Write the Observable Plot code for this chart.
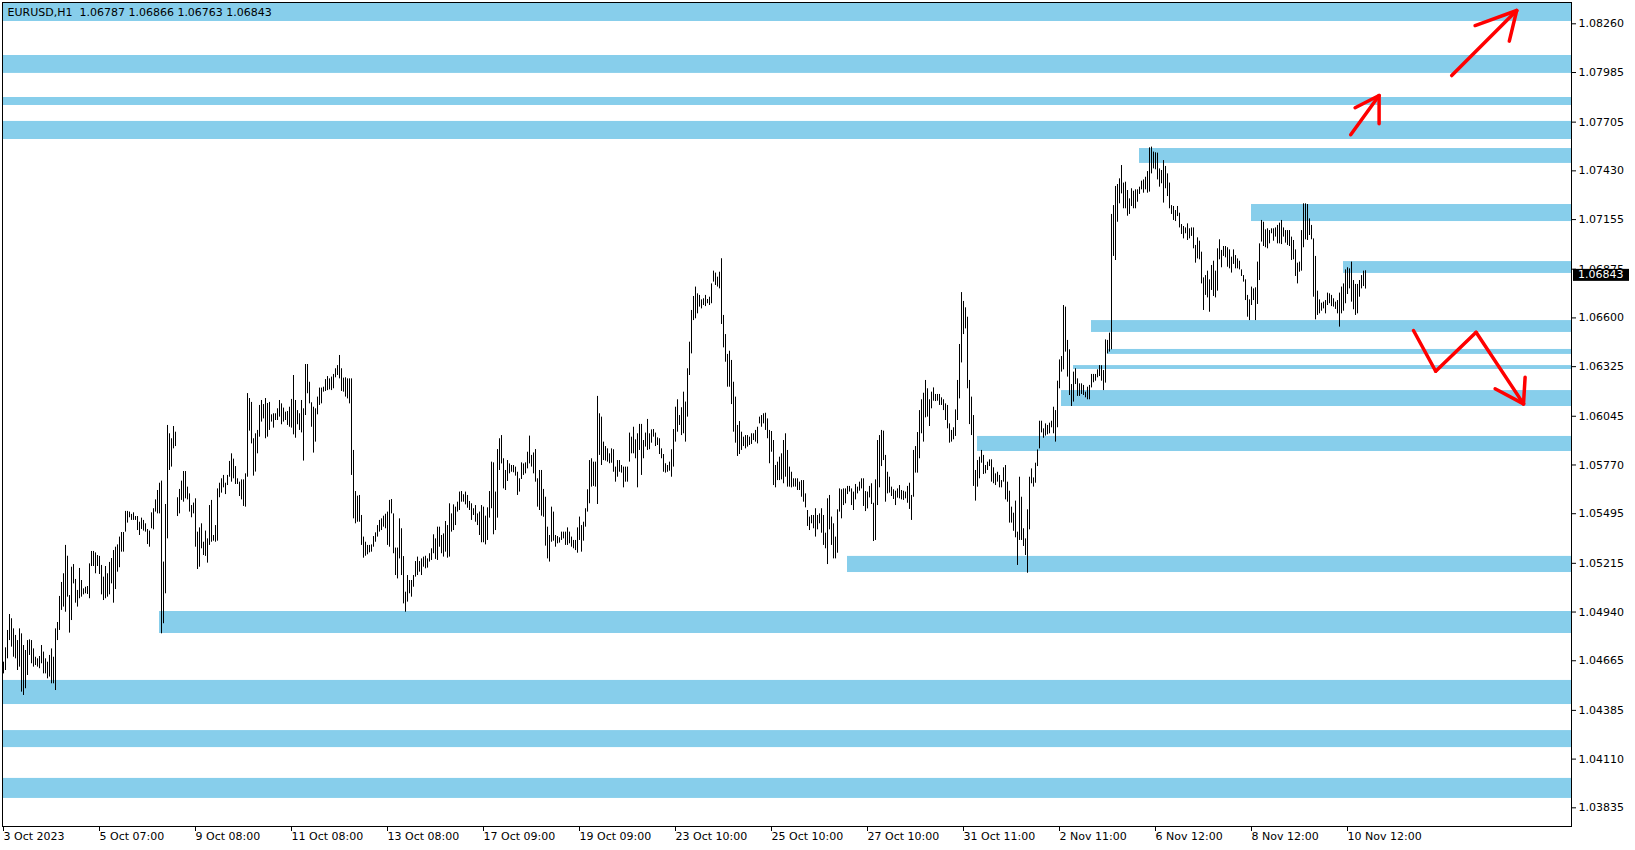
<!DOCTYPE html>
<html><head><meta charset="utf-8">
<script src="https://cdn.jsdelivr.net/npm/d3@7"></script>
<script src="https://cdn.jsdelivr.net/npm/@observablehq/plot@0.6"></script>
<style>
html,body{margin:0;padding:0;background:#fff;}
svg text{white-space:pre;}
</style></head><body><div id="chart"></div>
<script>
// ---- data ----
const symbolHeader = "EURUSD,H1  1.06787 1.06866 1.06763 1.06843";
const lastPrice = 1.06843;

const highs = [
1.04657,1.04738,1.04836,1.04926,1.04902,1.04845,1.04808,1.04779,1.04845,1.04817,
1.04751,1.04723,1.04779,1.04783,1.04779,1.04732,1.04685,1.04676,1.04689,1.04751,
1.04714,1.04676,1.04657,1.04695,1.04732,1.04685,1.04845,1.04881,1.05028,1.05107,
1.05156,1.05316,1.05255,1.05033,1.05193,1.05208,1.05124,1.05062,1.05186,1.05118,
1.05071,1.05080,1.05084,1.05212,1.05282,1.05282,1.05274,1.05259,1.05254,1.05203,
1.05137,1.05197,1.05156,1.05220,1.05242,1.05287,1.05306,1.05319,1.05363,1.05389,
1.05389,1.05508,1.05508,1.05504,1.05491,1.05500,1.05479,1.05479,1.05447,1.05470,
1.05457,1.05438,1.05406,1.05397,1.05500,1.05523,1.05573,1.05626,1.05667,1.05679,
1.05222,1.05547,1.05993,1.05946,1.05918,1.05987,1.05955,1.05585,1.05632,1.05679,
1.05733,1.05733,1.05645,1.05607,1.05541,1.05555,1.05579,1.05391,1.05415,1.05438,
1.05334,1.05397,1.05353,1.05541,1.05570,1.05372,1.05428,1.05635,1.05667,1.05692,
1.05711,1.05667,1.05711,1.05790,1.05833,1.05803,1.05761,1.05692,1.05673,1.05686,
1.05686,1.05720,1.06173,1.06145,1.06123,1.05918,1.05946,1.05965,1.06106,1.06134,
1.06111,1.06145,1.06117,1.06123,1.06053,1.06059,1.06059,1.06087,1.06134,1.06115,
1.06091,1.06068,1.06072,1.06096,1.06140,1.06275,1.06134,1.06077,1.06059,1.06134,
1.06087,1.06337,1.06337,1.06237,1.06121,1.06096,1.06087,1.06153,1.06204,1.06204,
1.06209,1.06252,1.06269,1.06256,1.06266,1.06281,1.06313,1.06331,1.06388,1.06313,
1.06260,1.06262,1.06256,1.06256,1.06256,1.05852,1.05620,1.05594,1.05598,1.05485,
1.05363,1.05334,1.05316,1.05316,1.05319,1.05366,1.05387,1.05428,1.05457,1.05466,
1.05481,1.05492,1.05504,1.05570,1.05575,1.05494,1.05301,1.05301,1.05466,1.05410,
1.05253,1.05052,1.05146,1.05118,1.05118,1.05146,1.05225,1.05250,1.05225,1.05240,
1.05250,1.05255,1.05240,1.05269,1.05297,1.05376,1.05353,1.05419,1.05419,1.05372,
1.05381,1.05451,1.05428,1.05551,1.05494,1.05545,1.05532,1.05560,1.05617,1.05620,
1.05602,1.05617,1.05598,1.05564,1.05551,1.05523,1.05541,1.05494,1.05504,1.05541,
1.05532,1.05481,1.05528,1.05620,1.05786,1.05782,1.05617,1.05857,1.05918,1.05936,
1.05805,1.05739,1.05795,1.05776,1.05767,1.05767,1.05758,1.05729,1.05692,1.05782,
1.05776,1.05782,1.05842,1.05933,1.05824,1.05838,1.05857,1.05692,1.05739,1.05739,
1.05632,1.05588,1.05419,1.05372,1.05532,1.05504,1.05372,1.05366,1.05359,1.05391,
1.05391,1.05391,1.05415,1.05391,1.05363,1.05344,1.05344,1.05415,1.05476,1.05428,
1.05447,1.05523,1.05630,1.05795,1.05805,1.05786,1.05786,1.06157,1.06059,1.06040,
1.05899,1.05874,1.05861,1.05833,1.05861,1.05856,1.05758,1.05795,1.05795,1.05767,
1.05758,1.05758,1.05758,1.05950,1.05927,1.05983,1.05912,1.05946,1.05999,1.05999,
1.05908,1.05950,1.06027,1.05946,1.05968,1.05970,1.05950,1.05923,1.05918,1.05861,
1.05829,1.05777,1.05767,1.05786,1.05856,1.05970,1.06096,1.06138,1.06049,1.06093,
1.06181,1.06125,1.06313,1.06463,1.06642,1.06721,1.06774,1.06736,1.06727,1.06702,
1.06708,1.06727,1.06704,1.06717,1.06792,1.06864,1.06853,1.06830,1.06858,1.06934,
1.06614,1.06506,1.06394,1.06412,1.06360,1.06237,1.06153,1.05993,1.06015,1.05955,
1.05927,1.05936,1.05936,1.05927,1.05946,1.05946,1.05965,1.05983,1.06040,1.06049,
1.06059,1.06062,1.06030,1.05965,1.05959,1.05908,1.05767,1.05786,1.05814,1.05833,
1.05908,1.05946,1.05852,1.05758,1.05729,1.05692,1.05692,1.05692,1.05673,1.05682,
1.05682,1.05607,1.05513,1.05476,1.05485,1.05485,1.05523,1.05485,1.05494,1.05523,
1.05485,1.05385,1.05579,1.05598,1.05476,1.05438,1.05363,1.05517,1.05635,1.05630,
1.05635,1.05635,1.05649,1.05649,1.05635,1.05617,1.05660,1.05645,1.05673,1.05692,
1.05692,1.05620,1.05617,1.05649,1.05664,1.05554,1.05686,1.05908,1.05936,1.05965,
1.05961,1.05824,1.05729,1.05701,1.05645,1.05630,1.05622,1.05635,1.05654,1.05626,
1.05622,1.05617,1.05649,1.05667,1.05598,1.05852,1.05874,1.05953,1.06077,1.06138,
1.06175,1.06247,1.06200,1.06138,1.06181,1.06205,1.06168,1.06168,1.06168,1.06149,
1.06138,1.06115,1.06106,1.06002,1.05965,1.05980,1.06081,1.06247,1.06450,1.06743,
1.06693,1.06657,1.06604,1.06247,1.06153,1.06049,1.05739,1.05795,1.05814,1.05852,
1.05824,1.05767,1.05786,1.05799,1.05799,1.05754,1.05720,1.05729,1.05711,1.05682,
1.05754,1.05767,1.05673,1.05622,1.05532,1.05498,1.05566,1.05391,1.05701,1.05588,
1.05410,1.05353,1.05517,1.05701,1.05748,1.05697,1.05780,1.05855,1.06017,1.06017,
1.05974,1.06002,1.05993,1.06006,1.06017,1.06096,1.06077,1.06243,1.06363,1.06382,
1.06670,1.06661,1.06473,1.06420,1.06224,1.06294,1.06313,1.06256,1.06228,1.06228,
1.06219,1.06181,1.06209,1.06219,1.06281,1.06281,1.06281,1.06307,1.06331,1.06330,
1.06303,1.06476,1.06473,1.06514,1.07184,1.07234,1.07342,1.07353,1.07385,1.07460,
1.07361,1.07366,1.07319,1.07272,1.07329,1.07315,1.07323,1.07323,1.07338,1.07372,
1.07379,1.07394,1.07426,1.07560,1.07564,1.07536,1.07532,1.07530,1.07441,1.07432,
1.07488,1.07455,1.07413,1.07361,1.07234,1.07229,1.07206,1.07229,1.07191,1.07127,
1.07116,1.07108,1.07131,1.07103,1.07108,1.07108,1.07009,1.07052,1.07033,1.06971,
1.06826,1.06839,1.06864,1.06815,1.06896,1.06920,1.06864,1.06990,1.07041,1.06981,
1.07003,1.07003,1.06996,1.06984,1.06943,1.06984,1.06952,1.06933,1.06920,1.06871,
1.06839,1.06815,1.06727,1.06702,1.06774,1.06764,1.06770,1.06915,1.07018,1.07150,
1.07140,1.07097,1.07103,1.07093,1.07103,1.07103,1.07108,1.07122,1.07135,1.07150,
1.07108,1.07093,1.07093,1.07093,1.07056,1.07037,1.06984,1.06909,1.06915,1.07093,
1.07244,1.07244,1.07240,1.07159,1.07122,1.07046,1.06947,1.06751,1.06702,1.06683,
1.06689,1.06698,1.06740,1.06736,1.06727,1.06708,1.06689,1.06698,1.06740,1.06774,
1.06792,1.06871,1.06883,1.06877,1.06915,1.06811,1.06789,1.06789,1.06811,1.06839,
1.06864,1.06866
];

const lows = [
1.04591,1.04610,1.04676,1.04779,1.04742,1.04685,1.04676,1.04610,1.04629,1.04488,
1.04469,1.04507,1.04582,1.04695,1.04648,1.04629,1.04638,1.04629,1.04620,1.04648,
1.04591,1.04591,1.04563,1.04573,1.04535,1.04535,1.04497,1.04779,1.04836,1.04949,
1.04968,1.04939,1.05024,1.04821,1.04892,1.05099,1.04990,1.04968,1.05015,1.05024,
1.05037,1.05043,1.05039,1.05015,1.05197,1.05197,1.05156,1.05197,1.05152,1.05037,
1.05005,1.05015,1.05024,1.05037,1.05099,1.04990,1.05067,1.05165,1.05190,1.05278,
1.05278,1.05391,1.05442,1.05472,1.05457,1.05457,1.05457,1.05400,1.05372,1.05406,
1.05397,1.05391,1.05321,1.05306,1.05410,1.05404,1.05504,1.05494,1.05494,1.04817,
1.04874,1.05043,1.05353,1.05739,1.05758,1.05861,1.05874,1.05479,1.05494,1.05570,
1.05560,1.05579,1.05573,1.05504,1.05472,1.05494,1.05306,1.05180,1.05193,1.05297,
1.05259,1.05254,1.05216,1.05316,1.05334,1.05340,1.05334,1.05340,1.05585,1.05611,
1.05641,1.05603,1.05654,1.05701,1.05673,1.05692,1.05660,1.05660,1.05592,1.05573,
1.05536,1.05532,1.05701,1.05961,1.05889,1.05707,1.05730,1.05833,1.05927,1.06012,
1.06030,1.05918,1.05927,1.05965,1.06012,1.05978,1.06021,1.06021,1.06040,1.05997,
1.06012,1.06021,1.05993,1.05983,1.05978,1.05940,1.05921,1.05997,1.05965,1.05951,
1.05792,1.06049,1.06172,1.06115,1.05983,1.05837,1.05899,1.06053,1.06106,1.06115,
1.06181,1.06185,1.06190,1.06194,1.06190,1.06200,1.06262,1.06275,1.06256,1.06185,
1.06181,1.06153,1.06143,1.06115,1.05711,1.05466,1.05438,1.05447,1.05447,1.05316,
1.05244,1.05255,1.05263,1.05274,1.05278,1.05306,1.05334,1.05363,1.05391,1.05400,
1.05419,1.05410,1.05316,1.05306,1.05494,1.05269,1.05146,1.05127,1.05240,1.05146,
1.04986,1.04939,1.04996,1.05043,1.05024,1.05080,1.05137,1.05146,1.05165,1.05146,
1.05193,1.05184,1.05188,1.05222,1.05231,1.05269,1.05237,1.05231,1.05306,1.05269,
1.05250,1.05278,1.05244,1.05250,1.05391,1.05400,1.05428,1.05504,1.05513,1.05560,
1.05560,1.05545,1.05526,1.05513,1.05457,1.05485,1.05447,1.05428,1.05372,1.05331,
1.05331,1.05319,1.05344,1.05470,1.05523,1.05376,1.05400,1.05470,1.05739,1.05776,
1.05635,1.05626,1.05677,1.05720,1.05729,1.05726,1.05707,1.05598,1.05617,1.05688,
1.05711,1.05720,1.05748,1.05776,1.05758,1.05720,1.05673,1.05532,1.05513,1.05481,
1.05475,1.05312,1.05240,1.05222,1.05334,1.05340,1.05306,1.05325,1.05329,1.05344,
1.05353,1.05316,1.05316,1.05325,1.05306,1.05297,1.05287,1.05272,1.05344,1.05278,
1.05340,1.05419,1.05504,1.05551,1.05645,1.05649,1.05645,1.05547,1.05824,1.05767,
1.05795,1.05792,1.05786,1.05777,1.05780,1.05729,1.05673,1.05701,1.05729,1.05724,
1.05641,1.05673,1.05673,1.05786,1.05833,1.05833,1.05805,1.05641,1.05852,1.05711,
1.05805,1.05871,1.05852,1.05856,1.05893,1.05927,1.05874,1.05880,1.05829,1.05805,
1.05729,1.05724,1.05729,1.05735,1.05701,1.05758,1.05899,1.05955,1.05993,1.05936,
1.05946,1.05899,1.06040,1.06275,1.06397,1.06585,1.06595,1.06623,1.06661,1.06651,
1.06670,1.06664,1.06680,1.06670,1.06680,1.06802,1.06783,1.06774,1.06764,1.06563,
1.06431,1.06350,1.06209,1.06209,1.06111,1.05955,1.05893,1.05818,1.05829,1.05852,
1.05874,1.05861,1.05871,1.05880,1.05886,1.05908,1.05899,1.05889,1.06002,1.05983,
1.06002,1.05965,1.05918,1.05777,1.05842,1.05654,1.05641,1.05682,1.05682,1.05686,
1.05664,1.05701,1.05645,1.05645,1.05641,1.05645,1.05645,1.05626,1.05626,1.05588,
1.05560,1.05528,1.05423,1.05400,1.05438,1.05410,1.05363,1.05404,1.05438,1.05385,
1.05316,1.05297,1.05208,1.05404,1.05316,1.05240,1.05240,1.05272,1.05504,1.05466,
1.05541,1.05551,1.05603,1.05617,1.05541,1.05513,1.05573,1.05607,1.05622,1.05635,
1.05536,1.05507,1.05522,1.05584,1.05547,1.05338,1.05344,1.05541,1.05641,1.05761,
1.05795,1.05560,1.05607,1.05611,1.05592,1.05575,1.05541,1.05583,1.05579,1.05573,
1.05570,1.05579,1.05554,1.05519,1.05457,1.05588,1.05724,1.05724,1.05805,1.05946,
1.05899,1.06036,1.06040,1.05987,1.06087,1.06130,1.06128,1.06130,1.06106,1.06106,
1.06077,1.06021,1.05974,1.05893,1.05899,1.05912,1.05931,1.06021,1.06143,1.06346,
1.06506,1.06538,1.06200,1.05998,1.05936,1.05649,1.05566,1.05645,1.05692,1.05780,
1.05716,1.05720,1.05739,1.05761,1.05673,1.05664,1.05654,1.05673,1.05641,1.05641,
1.05673,1.05573,1.05560,1.05442,1.05442,1.05396,1.05359,1.05203,1.05344,1.05344,
1.05310,1.05259,1.05159,1.05404,1.05664,1.05645,1.05667,1.05761,1.05861,1.05951,
1.05921,1.05933,1.05940,1.05946,1.05980,1.05946,1.05899,1.05980,1.06200,1.06294,
1.06307,1.06407,1.06266,1.06162,1.06100,1.06125,1.06224,1.06157,1.06157,1.06168,
1.06162,1.06149,1.06138,1.06138,1.06205,1.06234,1.06243,1.06262,1.06269,1.06243,
1.06190,1.06232,1.06397,1.06407,1.06420,1.06947,1.06924,1.07140,1.07244,1.07300,
1.07216,1.07216,1.07174,1.07184,1.07229,1.07216,1.07216,1.07253,1.07297,1.07323,
1.07304,1.07323,1.07304,1.07310,1.07413,1.07441,1.07436,1.07379,1.07338,1.07357,
1.07248,1.07329,1.07285,1.07216,1.07184,1.07150,1.07144,1.07172,1.07108,1.07071,
1.07046,1.07075,1.07037,1.07046,1.07060,1.06990,1.06909,1.06933,1.06928,1.06792,
1.06642,1.06727,1.06713,1.06632,1.06755,1.06721,1.06713,1.06751,1.06928,1.06883,
1.06947,1.06939,1.06886,1.06877,1.06853,1.06902,1.06877,1.06877,1.06871,1.06834,
1.06802,1.06698,1.06604,1.06585,1.06670,1.06698,1.06585,1.06676,1.06811,1.07028,
1.07003,1.06996,1.06990,1.07018,1.07075,1.07033,1.07056,1.07018,1.07018,1.07014,
1.07056,1.07022,1.07009,1.07003,1.06924,1.06928,1.06834,1.06792,1.06858,1.06864,
1.06996,1.07041,1.07037,1.07065,1.07041,1.06717,1.06589,1.06614,1.06623,1.06638,
1.06651,1.06623,1.06670,1.06680,1.06664,1.06661,1.06648,1.06623,1.06548,1.06623,
1.06638,1.06680,1.06732,1.06764,1.06689,1.06646,1.06614,1.06623,1.06717,1.06764,
1.06777,1.06763
];

// x-axis: bar index of each time label, and the label text
const timeTickBars = [0,48,96,144,192,240,288,336,384,432,480,528,576,624,672];
const timeTickLabels = ["3 Oct 2023","5 Oct 07:00","9 Oct 08:00","11 Oct 08:00","13 Oct 08:00",
  "17 Oct 09:00","19 Oct 09:00","23 Oct 10:00","25 Oct 10:00","27 Oct 10:00",
  "31 Oct 11:00","2 Nov 11:00","6 Nov 12:00","8 Nov 12:00","10 Nov 12:00"];

// y-axis price labels
const priceTicks = [1.08260,1.07985,1.07705,1.07430,1.07155,1.06875,1.06600,1.06325,1.06045,
  1.05770,1.05495,1.05215,1.04940,1.04665,1.04385,1.04110,1.03835];

// support / resistance zones (price range and the bar where each starts)
const zoneTop    = [1.08375,1.08081,1.07844,1.07709,1.07556,1.07240,1.06918,1.06585,1.06422,1.06331,1.06190,1.05931,1.05254,1.04943,1.04554,1.04271,1.04001];
const zoneBottom = [1.08273,1.07980,1.07799,1.07607,1.07472,1.07144,1.06851,1.06518,1.06394,1.06309,1.06100,1.05846,1.05163,1.04819,1.04418,1.04175,1.03888];
const zoneStartBar = [0,0,0,0,568,624,670,544,552,535,529,487,422,78,0,0,0];

// hand-drawn red arrows: segments from (bar, price) to (bar, price)
const penFromBar   = [673.6,675.8,687.8, 724.1,735.8,756.6, 705.0,716.1,736.3,745.8,760.8];
const penFromPrice = [1.07634,1.07786,1.07855, 1.07968,1.08250,1.08335, 1.06529,1.06299,1.06519,1.06200,1.06265];
const penToBar     = [687.8,687.8,687.8, 756.6,756.6,752.9, 716.1,736.3,760.0,760.0,760.0];
const penToPrice   = [1.07855,1.07855,1.07696, 1.08335,1.08335,1.08162, 1.06299,1.06519,1.06115,1.06115,1.06115];

// ---- build ----
const bars = highs.map((h, i) => ({i, high: h, low: lows[i]}));
const zones = zoneTop.map((t, i) => ({top: t, bottom: zoneBottom[i], start: zoneStartBar[i]}));
const pens = penFromBar.map((b, i) => ({b1: b, p1: penFromPrice[i], b2: penToBar[i], p2: penToPrice[i]}));

const xDomain = [-0.5, 784];
const yDomain = [1.037296, 1.083802];

const plot = Plot.plot({
  width: 1635, height: 850,
  marginLeft: 2, marginRight: 64, marginTop: 2, marginBottom: 24,
  x: {domain: xDomain},
  y: {domain: yDomain},
  style: {fontFamily: "DejaVu Sans", fontSize: "11px", color: "#000", background: "#fff", overflow: "visible"},
  marks: [
    Plot.rect(zones, {x1: "start", x2: () => xDomain[1], y1: "bottom", y2: "top", fill: "#87CEEB"}),
    Plot.ruleX(bars, {x: "i", y1: "low", y2: "high", stroke: "#000", strokeWidth: 1}),
    Plot.link(pens, {x1: "b1", y1: "p1", x2: "b2", y2: "p2", stroke: "#ff0000", strokeWidth: 3.5, strokeLinecap: "round"}),
    Plot.frame({stroke: "#000"}),
    Plot.axisY({anchor: "right", ticks: priceTicks, tickFormat: d => d.toFixed(5), tickSize: 4, tickPadding: 3, label: null, fill: "#000"}),
    Plot.axisX({anchor: "bottom", ticks: timeTickBars, tickFormat: d => timeTickLabels[timeTickBars.indexOf(d)], tickSize: 5, tickPadding: 1, textAnchor: "start", label: null, fill: "#000"}),
    Plot.text([symbolHeader], {frameAnchor: "top-left", text: d => d, dx: 5, dy: 6, textAnchor: "start", fill: "#000"})
  ]
});

// current price marker on the price axis
const ys = plot.scale("y");
const yy = ys.apply(lastPrice);
const svg = d3.select(plot);
const g = svg.append("g").attr("text-anchor", "start");
g.append("rect").attr("x", 1573).attr("y", yy - 5.5).attr("width", 56).attr("height", 12).attr("fill", "#000");
g.append("text").attr("x", 1578).attr("y", yy).attr("dy", "0.35em").attr("fill", "#fff")
  .attr("text-anchor", "start")
  .attr("font-family", "DejaVu Sans").attr("font-size", 11).text(lastPrice.toFixed(5));

document.getElementById("chart").appendChild(plot);
</script>
</body></html>
